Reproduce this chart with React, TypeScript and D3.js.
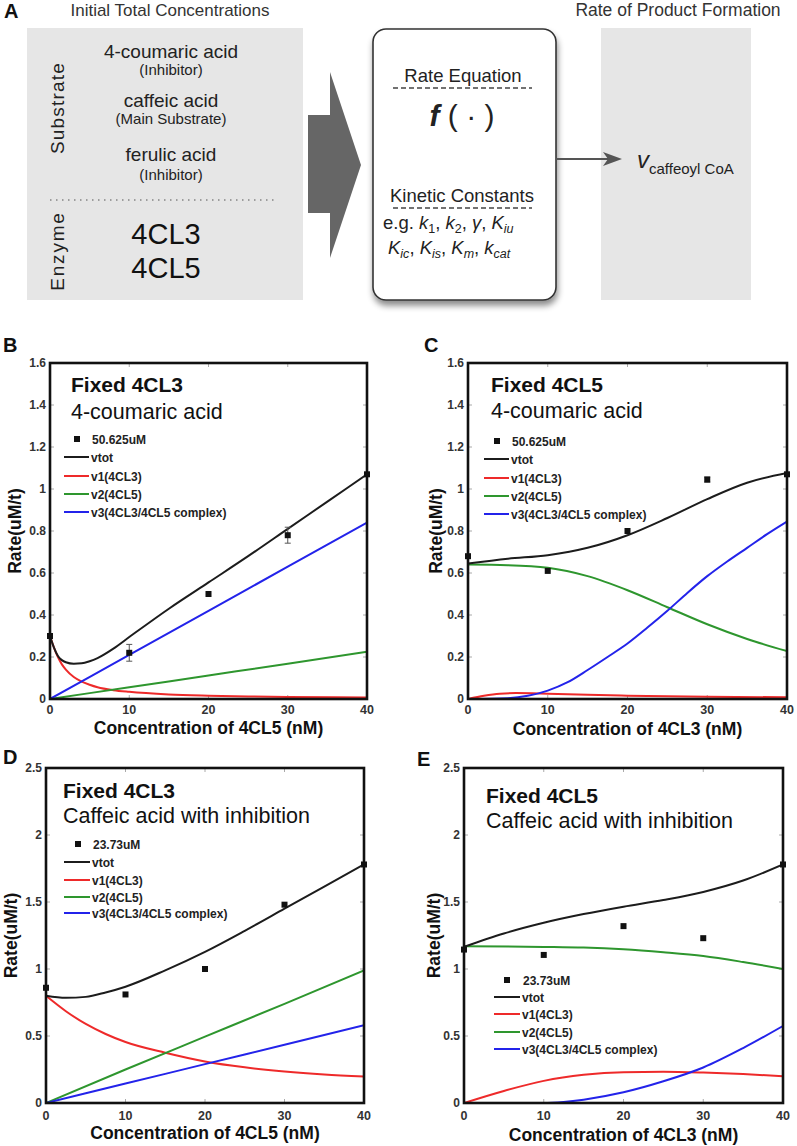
import React from "react";
import * as d3 from "d3";

type Pt = [number, number];

const FONT = "'Liberation Sans', Arial, Helvetica, sans-serif";

const xTicks = [0, 10, 20, 30, 40];
const yTicksBC = [0, 0.2, 0.4, 0.6, 0.8, 1, 1.2, 1.4, 1.6];
const yTicksDE = [0, 0.5, 1, 1.5, 2, 2.5];
const seriesNames = ["vtot", "v1(4CL3)", "v2(4CL5)", "v3(4CL3/4CL5 complex)"];
const seriesColors = ["#1c1c1c", "#ee2a2a", "#2e962e", "#2323ea"];

// Panel B: fixed 4CL3, 4-coumaric acid
const bMeasX = [0, 10, 20, 30, 40];
const bMeasY = [0.3, 0.22, 0.5, 0.78, 1.07];
const bMeasErr = [0, 0.04, 0, 0.038, 0];
const bVtot: Pt[] = [[0, 0.3], [0.5, 0.245], [1, 0.205], [1.5, 0.185], [2, 0.175], [3, 0.168], [4, 0.17], [5, 0.18], [6, 0.195], [8, 0.24], [10, 0.295], [15, 0.43], [20, 0.555], [25, 0.68], [30, 0.81], [35, 0.94], [40, 1.07]];
const bV1: Pt[] = [[0, 0.3], [0.5, 0.245], [1, 0.2], [1.5, 0.165], [2, 0.14], [3, 0.105], [4, 0.083], [5, 0.068], [6, 0.056], [8, 0.042], [10, 0.034], [15, 0.022], [20, 0.016], [25, 0.012], [30, 0.01], [40, 0.007]];
const bV2: Pt[] = [[0, 0], [10, 0.056], [20, 0.112], [30, 0.168], [40, 0.225]];
const bV3: Pt[] = [[0, 0], [10, 0.21], [20, 0.42], [30, 0.63], [40, 0.84]];

// Panel C: fixed 4CL5, 4-coumaric acid
const cMeasX = [0, 10, 20, 30, 40];
const cMeasY = [0.68, 0.61, 0.8, 1.045, 1.07];
const cMeasErr = [0, 0, 0, 0.012, 0];
const cVtot: Pt[] = [[0, 0.645], [5, 0.668], [10, 0.685], [15, 0.72], [20, 0.78], [25, 0.862], [30, 0.952], [35, 1.03], [40, 1.076]];
const cV1: Pt[] = [[0, 0], [2, 0.015], [4, 0.025], [6, 0.028], [8, 0.027], [10, 0.025], [15, 0.02], [20, 0.016], [30, 0.011], [40, 0.008]];
const cV2: Pt[] = [[0, 0.64], [5, 0.637], [10, 0.625], [15, 0.585], [20, 0.518], [25, 0.437], [30, 0.356], [35, 0.286], [40, 0.228]];
const cV3: Pt[] = [[0, 0], [5, 0.004], [7.5, 0.015], [10, 0.04], [12.5, 0.08], [15, 0.138], [17.5, 0.2], [20, 0.264], [22.5, 0.34], [25, 0.42], [27.5, 0.505], [30, 0.585], [32.5, 0.655], [35, 0.72], [37.5, 0.785], [40, 0.845]];

// Panel D: fixed 4CL3, caffeic acid with inhibition
const dMeasX = [0, 10, 20, 30, 40];
const dMeasY = [0.86, 0.81, 1.0, 1.48, 1.78];
const dMeasErr = [0, 0, 0, 0, 0];
const dVtot: Pt[] = [[0, 0.8], [2.5, 0.785], [5, 0.792], [7.5, 0.825], [10, 0.868], [15, 0.99], [20, 1.128], [25, 1.285], [30, 1.45], [35, 1.615], [40, 1.78]];
const dV1: Pt[] = [[0, 0.8], [2.5, 0.685], [5, 0.59], [7.5, 0.515], [10, 0.455], [15, 0.375], [20, 0.31], [25, 0.266], [30, 0.235], [35, 0.213], [40, 0.198]];
const dV2: Pt[] = [[0, 0], [10, 0.25], [20, 0.495], [30, 0.74], [40, 0.99]];
const dV3: Pt[] = [[0, 0], [10, 0.145], [20, 0.29], [30, 0.435], [40, 0.58]];

// Panel E: fixed 4CL5, caffeic acid with inhibition
const eMeasX = [0, 10, 20, 30, 40];
const eMeasY = [1.145, 1.105, 1.32, 1.23, 1.78];
const eMeasErr = [0, 0, 0, 0, 0];
const eVtot: Pt[] = [[0, 1.165], [5, 1.265], [10, 1.345], [15, 1.41], [20, 1.465], [25, 1.515], [30, 1.575], [35, 1.66], [40, 1.78]];
const eV1: Pt[] = [[0, 0], [5, 0.09], [10, 0.165], [15, 0.21], [20, 0.23], [25, 0.233], [30, 0.227], [35, 0.216], [40, 0.2]];
const eV2: Pt[] = [[0, 1.17], [10, 1.165], [15, 1.16], [20, 1.147], [25, 1.125], [30, 1.097], [35, 1.052], [40, 1.0]];
const eV3: Pt[] = [[0, 0], [10, 0], [12.5, 0.008], [15, 0.025], [20, 0.08], [25, 0.162], [30, 0.265], [35, 0.41], [40, 0.575]];

type PanelProps = {
  id: string;
  letter: string;
  letterX: number;
  letterY: number;
  x0: number; x1: number; y0: number; y1: number;
  yMax: number;
  yTicks: number[];
  title1: string;
  title2: string;
  titleX: number;
  title1Y: number;
  title2Y: number;
  measLabel: string;
  markX: number;
  markY: number;
  legLineX0: number;
  legLineX1: number;
  legY: number[];
  measX: number[];
  measY: number[];
  measErr: number[];
  curves: Pt[][];
  xTitle: string;
  xTickY: number;
  xTitleY: number;
  yTitleX: number;
};

function Panel(p: PanelProps) {
  const x = d3.scaleLinear().domain([0, 40]).range([p.x0, p.x1]);
  const y = d3.scaleLinear().domain([0, p.yMax]).range([p.y1, p.y0]);
  const line = d3.line<Pt>().x((d) => x(d[0])).y((d) => y(d[1])).curve(d3.curveMonotoneX);
  const clipId = "clip" + p.id;
  return (
    <g fontFamily={FONT}>
      <defs>
        <clipPath id={clipId}>
          <rect x={p.x0} y={p.y0 - 2} width={p.x1 - p.x0} height={p.y1 - p.y0 + 2} />
        </clipPath>
      </defs>
      <text x={p.letterX} y={p.letterY} fontSize={20} fontWeight="bold" fill="#111">{p.letter}</text>
      {xTicks.slice(1, -1).map((t) => (
        <g key={"xt" + t} stroke="#aaa" strokeWidth={1}>
          <line x1={x(t)} x2={x(t)} y1={p.y1} y2={p.y1 - 4} />
          <line x1={x(t)} x2={x(t)} y1={p.y0} y2={p.y0 + 4} />
        </g>
      ))}
      {p.yTicks.slice(1, -1).map((t) => (
        <g key={"yt" + t} stroke="#aaa" strokeWidth={1}>
          <line x1={p.x0} x2={p.x0 + 4} y1={y(t)} y2={y(t)} />
          <line x1={p.x1} x2={p.x1 - 4} y1={y(t)} y2={y(t)} />
        </g>
      ))}
      <g clipPath={`url(#${clipId})`} fill="none" strokeWidth={2}>
        {[1, 2, 3, 0].map((i) => (
          <path key={"c" + i} d={line(p.curves[i]) || ""} stroke={seriesColors[i]} />
        ))}
      </g>
      {p.measX.map((mx, i) => (
        <g key={"m" + i}>
          {p.measErr[i] > 0 && (
            <g stroke="#555" strokeWidth={1}>
              <line x1={x(mx)} x2={x(mx)} y1={y(p.measY[i] - p.measErr[i])} y2={y(p.measY[i] + p.measErr[i])} />
              <line x1={x(mx) - 3} x2={x(mx) + 3} y1={y(p.measY[i] - p.measErr[i])} y2={y(p.measY[i] - p.measErr[i])} />
              <line x1={x(mx) - 3} x2={x(mx) + 3} y1={y(p.measY[i] + p.measErr[i])} y2={y(p.measY[i] + p.measErr[i])} />
            </g>
          )}
          <rect x={x(mx) - 3} y={y(p.measY[i]) - 3} width={6} height={6} fill="#111" />
        </g>
      ))}
      <rect x={p.x0} y={p.y0} width={p.x1 - p.x0} height={p.y1 - p.y0} fill="none" stroke="#111" strokeWidth={2.6} />
      {p.yTicks.map((t) => (
        <text key={"yl" + t} x={p.x0 - 4} y={y(t) + 4} fontSize={12} fontWeight="bold" textAnchor="end" fill="#333">{d3.format("~g")(t)}</text>
      ))}
      {xTicks.map((t) => (
        <text key={"xl" + t} x={x(t)} y={p.xTickY} fontSize={12.5} fontWeight="bold" textAnchor="middle" fill="#333">{t}</text>
      ))}
      <text x={(p.x0 + p.x1) / 2} y={p.xTitleY} fontSize={17.5} fontWeight="bold" textAnchor="middle" fill="#111">{p.xTitle}</text>
      <text transform={`translate(${p.yTitleX},${(p.y0 + p.y1) / 2}) rotate(-90)`} fontSize={17.5} fontWeight="bold" textAnchor="middle" fill="#111">Rate(uM/t)</text>
      <text x={p.titleX} y={p.title1Y} fontSize={21} fontWeight="bold" fill="#111">{p.title1}</text>
      <text x={p.titleX} y={p.title2Y} fontSize={21.5} fill="#111">{p.title2}</text>
      <rect x={p.markX - 3} y={p.markY - 3} width={6} height={6} fill="#111" />
      <text x={p.legLineX1 + 3} y={p.markY + 5} fontSize={12} fontWeight="bold" fill="#222">{p.measLabel}</text>
      {seriesNames.map((s, i) => (
        <g key={"lg" + i}>
          <line x1={p.legLineX0} x2={p.legLineX1} y1={p.legY[i]} y2={p.legY[i]} stroke={seriesColors[i]} strokeWidth={2} />
          <text x={p.legLineX1 + 2} y={p.legY[i] + 5} fontSize={12} fontWeight="bold" fill="#222">{s}</text>
        </g>
      ))}
    </g>
  );
}

function PanelA() {
  return (
    <g fontFamily={FONT}>
      <defs>
        <filter id="shadow" x="-20%" y="-20%" width="150%" height="150%">
          <feDropShadow dx="1" dy="5" stdDeviation="3" floodColor="#000" floodOpacity="0.45" />
        </filter>
      </defs>
      <text x={4} y={18} fontSize={20} fontWeight="bold" fill="#111">A</text>
      <text x={170} y={16} fontSize={17} textAnchor="middle" fill="#333">Initial Total Concentrations</text>
      <text x={678} y={16} fontSize={17.5} textAnchor="middle" fill="#333">Rate of Product Formation</text>

      <rect x={27} y={28} width={276} height={272} fill="#e6e6e6" />
      <text transform="translate(64,108) rotate(-90)" fontSize={19} letterSpacing={1.2} textAnchor="middle" fill="#222">Substrate</text>
      <text transform="translate(64,251) rotate(-90)" fontSize={19} letterSpacing={1.8} textAnchor="middle" fill="#222">Enzyme</text>
      <g textAnchor="middle" fill="#222">
        <text x={171} y={58} fontSize={19}>4-coumaric acid</text>
        <text x={171} y={75} fontSize={15}>(Inhibitor)</text>
        <text x={171} y={107} fontSize={19}>caffeic acid</text>
        <text x={171} y={124} fontSize={15}>(Main Substrate)</text>
        <text x={171} y={161} fontSize={19}>ferulic acid</text>
        <text x={171} y={180} fontSize={15}>(Inhibitor)</text>
        <text x={166} y={244} fontSize={29} fill="#111">4CL3</text>
        <text x={166} y={278} fontSize={29} fill="#111">4CL5</text>
      </g>
      <line x1={50} x2={275} y1={200} y2={200} stroke="#555" strokeWidth={1.2} strokeDasharray="1.5,4.5" />

      <polygon points="308,115 330,115 330,72 361,165 330,258 330,213 308,213" fill="#666" />

      <rect x={373} y={29} width={183} height={271} rx={13} ry={13} fill="#fff" stroke="#333" strokeWidth={1.6} filter="url(#shadow)" />
      <g fill="#222">
        <text x={463} y={82} fontSize={18.5} textAnchor="middle">Rate Equation</text>
        <line x1={393} x2={532} y1={88} y2={88} stroke="#444" strokeWidth={1.4} strokeDasharray="5,3" />
        <text x={462} y={126} fontSize={30} textAnchor="middle">
          <tspan fontStyle="italic" fontWeight="bold">f</tspan>
          <tspan>{" ( · )"}</tspan>
        </text>
        <text x={462} y={202} fontSize={18.5} textAnchor="middle">Kinetic Constants</text>
        <line x1={393} x2={532} y1={208} y2={208} stroke="#444" strokeWidth={1.4} strokeDasharray="5,3" />
        <text x={383} y={229} fontSize={18.5}>
          <tspan>{"e.g. "}</tspan>
          <tspan fontStyle="italic">k</tspan>
          <tspan fontSize={12.5} dy={4}>1</tspan>
          <tspan dy={-4}>{", "}</tspan>
          <tspan fontStyle="italic">k</tspan>
          <tspan fontSize={12.5} dy={4}>2</tspan>
          <tspan dy={-4}>{", "}</tspan>
          <tspan fontStyle="italic">γ</tspan>
          <tspan>{", "}</tspan>
          <tspan fontStyle="italic">K</tspan>
          <tspan fontSize={12.5} fontStyle="italic" dy={4}>iu</tspan>
        </text>
        <text x={388} y={254} fontSize={18.5}>
          <tspan fontStyle="italic">K</tspan>
          <tspan fontSize={12.5} fontStyle="italic" dy={4}>ic</tspan>
          <tspan dy={-4}>{", "}</tspan>
          <tspan fontStyle="italic">K</tspan>
          <tspan fontSize={12.5} fontStyle="italic" dy={4}>is</tspan>
          <tspan dy={-4}>{", "}</tspan>
          <tspan fontStyle="italic">K</tspan>
          <tspan fontSize={12.5} fontStyle="italic" dy={4}>m</tspan>
          <tspan dy={-4}>{", "}</tspan>
          <tspan fontStyle="italic">k</tspan>
          <tspan fontSize={12.5} fontStyle="italic" dy={4}>cat</tspan>
        </text>
      </g>

      <rect x={601} y={28} width={150} height={272} fill="#e6e6e6" />
      <line x1={556} x2={612} y1={159} y2={159} stroke="#555" strokeWidth={2} />
      <polygon points="622,159 603,152 608,159 603,166" fill="#555" />
      <text x={637} y={168} fill="#222">
        <tspan fontSize={24} fontStyle="italic">v</tspan>
        <tspan fontSize={15} dy={6}>caffeoyl CoA</tspan>
      </text>
    </g>
  );
}

export default function App() {
  return (
    <svg width={797} height={1146} style={{ position: "absolute", left: 0, top: 0, background: "#fff" }} xmlns="http://www.w3.org/2000/svg">
      <rect x={0} y={0} width={797} height={1146} fill="#fff" />
      <PanelA />
      <Panel
        id="B" letter="B" letterX={3} letterY={352}
        x0={50} x1={367} y0={363} y1={699} yMax={1.6} yTicks={yTicksBC}
        title1="Fixed 4CL3" title2="4-coumaric acid" titleX={71} title1Y={392} title2Y={419}
        measLabel="50.625uM" markX={77} markY={439} legLineX0={64} legLineX1={89}
        legY={[457, 476, 494, 512]}
        measX={bMeasX} measY={bMeasY} measErr={bMeasErr}
        curves={[bVtot, bV1, bV2, bV3]}
        xTitle="Concentration of 4CL5 (nM)" xTickY={714} xTitleY={734} yTitleX={21}
      />
      <Panel
        id="C" letter="C" letterX={424} letterY={352}
        x0={468} x1={787} y0={363} y1={699} yMax={1.6} yTicks={yTicksBC}
        title1="Fixed 4CL5" title2="4-coumaric acid" titleX={491} title1Y={392} title2Y={418}
        measLabel="50.625uM" markX={497} markY={441} legLineX0={484} legLineX1={509}
        legY={[459, 478, 496, 514]}
        measX={cMeasX} measY={cMeasY} measErr={cMeasErr}
        curves={[cVtot, cV1, cV2, cV3]}
        xTitle="Concentration of 4CL3 (nM)" xTickY={714} xTitleY={735} yTitleX={442}
      />
      <Panel
        id="D" letter="D" letterX={3} letterY={764}
        x0={46} x1={364} y0={768} y1={1103} yMax={2.5} yTicks={yTicksDE}
        title1="Fixed 4CL3" title2="Caffeic acid with inhibition" titleX={63} title1Y={798} title2Y={823}
        measLabel="23.73uM" markX={78} markY={844} legLineX0={64} legLineX1={90}
        legY={[862, 880, 897, 913]}
        measX={dMeasX} measY={dMeasY} measErr={dMeasErr}
        curves={[dVtot, dV1, dV2, dV3]}
        xTitle="Concentration of 4CL5 (nM)" xTickY={1120} xTitleY={1139} yTitleX={17}
      />
      <Panel
        id="E" letter="E" letterX={417} letterY={766}
        x0={464} x1={783} y0={768} y1={1103} yMax={2.5} yTicks={yTicksDE}
        title1="Fixed 4CL5" title2="Caffeic acid with inhibition" titleX={486} title1Y={803} title2Y={828}
        measLabel="23.73uM" markX={507} markY={980} legLineX0={494} legLineX1={520}
        legY={[997, 1014, 1032, 1049]}
        measX={eMeasX} measY={eMeasY} measErr={eMeasErr}
        curves={[eVtot, eV1, eV2, eV3]}
        xTitle="Concentration of 4CL3 (nM)" xTickY={1120} xTitleY={1141} yTitleX={440}
      />
    </svg>
  );
}
